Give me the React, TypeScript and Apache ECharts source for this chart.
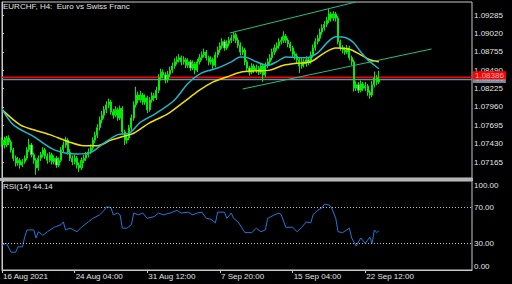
import React, { useEffect, useRef } from "react";
import * as echarts from "echarts";

const chartTitle = "EURCHF, H4:  Euro vs Swiss Franc";
const rsiTitle = "RSI(14) 44.14";
const priceTicks = [1.07165, 1.0743, 1.07695, 1.0796, 1.08225, 1.0849, 1.08755, 1.0902, 1.09285];
const rsiTicks = [0, 30, 70, 100];
const rsiLevels = [30, 70];
const dateTickIdx = [0, 32, 64, 96, 128, 160];
const dateTickLabels = ["16 Aug 2021", "24 Aug 04:00", "31 Aug 12:00", "7 Sep 20:00", "15 Sep 04:00", "22 Sep 12:00"];
const askPrice = 1.08386;
const bidPrice = 1.08355;

const opens = [
  1.0742, 1.0748, 1.0741, 1.0751, 1.0745, 1.0734, 1.0722, 1.0715, 1.0719, 1.0712,
  1.0717, 1.0722, 1.0734, 1.0741, 1.0727, 1.0719, 1.0708, 1.0722, 1.0727, 1.0734,
  1.0725, 1.0719, 1.0727, 1.0717, 1.0722, 1.0712, 1.0719, 1.0734, 1.0741, 1.0748,
  1.0731, 1.0722, 1.0717, 1.0722, 1.0712, 1.0708, 1.0719, 1.0722, 1.0727, 1.0731,
  1.0737, 1.0748, 1.0755, 1.0766, 1.0777, 1.0784, 1.0792, 1.0799, 1.0803, 1.0789,
  1.0784, 1.0792, 1.078, 1.0794, 1.076, 1.0748, 1.0751, 1.0766, 1.078, 1.0799,
  1.0813, 1.0806, 1.0813, 1.0803, 1.0809, 1.0792, 1.0806, 1.0812, 1.0809, 1.082,
  1.0838, 1.0846, 1.0842, 1.0835, 1.0843, 1.0849, 1.0855, 1.0861, 1.0864, 1.0867,
  1.0861, 1.0864, 1.0856, 1.0861, 1.0852, 1.0858, 1.0849, 1.0861, 1.0867, 1.0871,
  1.0875, 1.0867, 1.0861, 1.0864, 1.0856, 1.0871, 1.0878, 1.0884, 1.089, 1.0881,
  1.0887, 1.0892, 1.0895, 1.09, 1.0892, 1.0885, 1.0875, 1.0878, 1.0861, 1.0852,
  1.0846, 1.0855, 1.0849, 1.0852, 1.0846, 1.0855, 1.0842, 1.0856, 1.0861, 1.0867,
  1.0875, 1.0881, 1.0884, 1.089, 1.0892, 1.0898, 1.0892, 1.0887, 1.0881, 1.0872,
  1.0869, 1.0864, 1.0855, 1.0861, 1.0858, 1.0864, 1.0861, 1.0871, 1.0881, 1.089,
  1.0895, 1.0904, 1.091, 1.0915, 1.0921, 1.093, 1.0924, 1.093, 1.0924, 1.089,
  1.0881, 1.0878, 1.0875, 1.0881, 1.0867, 1.0861, 1.0823, 1.0828, 1.082, 1.0829,
  1.0823, 1.0826, 1.0817, 1.0813, 1.0828, 1.0838, 1.0832,
];
const closes = [
  1.0748, 1.0741, 1.0751, 1.0745, 1.0734, 1.0722, 1.0715, 1.0719, 1.0712, 1.0717,
  1.0722, 1.0734, 1.0741, 1.0727, 1.0719, 1.0708, 1.0722, 1.0727, 1.0734, 1.0725,
  1.0719, 1.0727, 1.0717, 1.0722, 1.0712, 1.0719, 1.0734, 1.0741, 1.0748, 1.0731,
  1.0722, 1.0717, 1.0722, 1.0712, 1.0708, 1.0719, 1.0722, 1.0727, 1.0731, 1.0737,
  1.0748, 1.0755, 1.0766, 1.0777, 1.0784, 1.0792, 1.0799, 1.0803, 1.0789, 1.0784,
  1.0792, 1.078, 1.0794, 1.076, 1.0748, 1.0751, 1.0766, 1.078, 1.0799, 1.0813,
  1.0806, 1.0813, 1.0803, 1.0809, 1.0792, 1.0806, 1.0812, 1.0809, 1.082, 1.0838,
  1.0846, 1.0842, 1.0835, 1.0843, 1.0849, 1.0855, 1.0861, 1.0864, 1.0867, 1.0861,
  1.0864, 1.0856, 1.0861, 1.0852, 1.0858, 1.0849, 1.0861, 1.0867, 1.0871, 1.0875,
  1.0867, 1.0861, 1.0864, 1.0856, 1.0871, 1.0878, 1.0884, 1.089, 1.0881, 1.0887,
  1.0892, 1.0895, 1.09, 1.0892, 1.0885, 1.0875, 1.0878, 1.0861, 1.0852, 1.0846,
  1.0855, 1.0849, 1.0852, 1.0846, 1.0855, 1.0842, 1.0856, 1.0861, 1.0867, 1.0875,
  1.0881, 1.0884, 1.089, 1.0892, 1.0898, 1.0892, 1.0887, 1.0881, 1.0872, 1.0869,
  1.0864, 1.0855, 1.0861, 1.0858, 1.0864, 1.0861, 1.0871, 1.0881, 1.089, 1.0895,
  1.0904, 1.091, 1.0915, 1.0921, 1.093, 1.0924, 1.093, 1.0924, 1.089, 1.0881,
  1.0878, 1.0875, 1.0881, 1.0867, 1.0861, 1.0823, 1.0828, 1.082, 1.0829, 1.0823,
  1.0826, 1.0817, 1.0813, 1.0828, 1.0838, 1.0832, 1.0836,
];
const highs = [
  1.0752, 1.0753, 1.0754, 1.0755, 1.0748, 1.0737, 1.0726, 1.0724, 1.0722, 1.0721,
  1.0726, 1.0738, 1.075, 1.0744, 1.073, 1.0722, 1.0726, 1.0731, 1.0738, 1.0737,
  1.0729, 1.0731, 1.073, 1.0726, 1.0725, 1.0723, 1.0738, 1.0746, 1.0753, 1.0751,
  1.0735, 1.0726, 1.0727, 1.0725, 1.0716, 1.0723, 1.0727, 1.0731, 1.0736, 1.0742,
  1.0752, 1.076, 1.0771, 1.0782, 1.079, 1.0797, 1.0804, 1.0808, 1.0806, 1.0793,
  1.0797, 1.0795, 1.0798, 1.0797, 1.0763, 1.0756, 1.077, 1.0785, 1.0804, 1.0825,
  1.0818, 1.0819, 1.0816, 1.0814, 1.0812, 1.081, 1.0817, 1.0816, 1.0825, 1.0843,
  1.0851, 1.085, 1.0846, 1.0848, 1.0854, 1.086, 1.0866, 1.0869, 1.0872, 1.087,
  1.0869, 1.0867, 1.0866, 1.0864, 1.0863, 1.0861, 1.0865, 1.0872, 1.0876, 1.088,
  1.0878, 1.087, 1.0869, 1.0867, 1.0875, 1.0883, 1.0889, 1.0895, 1.0893, 1.0892,
  1.0897, 1.09, 1.0904, 1.0903, 1.0896, 1.0889, 1.0883, 1.0881, 1.0864, 1.0855,
  1.0859, 1.0858, 1.0857, 1.0855, 1.0859, 1.0858, 1.086, 1.0866, 1.0872, 1.088,
  1.0886, 1.0889, 1.0895, 1.0897, 1.0905, 1.0901, 1.0895, 1.089, 1.0884, 1.0876,
  1.0873, 1.0867, 1.0866, 1.0865, 1.0869, 1.0868, 1.0876, 1.0886, 1.0895, 1.09,
  1.0909, 1.0915, 1.092, 1.0926, 1.0937, 1.0933, 1.0934, 1.0933, 1.0927, 1.0893,
  1.0885, 1.0882, 1.0885, 1.0884, 1.087, 1.0864, 1.0833, 1.0832, 1.0834, 1.0832,
  1.0832, 1.0829, 1.082, 1.0833, 1.0847, 1.0842, 1.0848,
];
const lows = [
  1.0738, 1.0736, 1.0738, 1.0741, 1.073, 1.0718, 1.071, 1.0711, 1.0707, 1.0709,
  1.0714, 1.0719, 1.0731, 1.0723, 1.0714, 1.0698, 1.0704, 1.0718, 1.0723, 1.0721,
  1.0714, 1.0716, 1.0713, 1.0713, 1.0708, 1.0709, 1.0716, 1.073, 1.0737, 1.0727,
  1.0718, 1.0712, 1.0713, 1.0707, 1.0702, 1.0705, 1.0715, 1.0718, 1.0723, 1.0728,
  1.0734, 1.0744, 1.0751, 1.0762, 1.0772, 1.0779, 1.0787, 1.0794, 1.0785, 1.0779,
  1.0781, 1.0776, 1.0777, 1.0756, 1.0741, 1.0743, 1.0748, 1.0762, 1.0776, 1.0795,
  1.0801, 1.0802, 1.0799, 1.0799, 1.0787, 1.0789, 1.0802, 1.0804, 1.0806, 1.0816,
  1.0834, 1.0837, 1.083, 1.0831, 1.0839, 1.0845, 1.0851, 1.0857, 1.086, 1.0856,
  1.0857, 1.0852, 1.0852, 1.0848, 1.0849, 1.0843, 1.0846, 1.0857, 1.0863, 1.0867,
  1.0863, 1.0856, 1.0857, 1.0851, 1.0853, 1.0867, 1.0874, 1.088, 1.0877, 1.0878,
  1.0883, 1.0888, 1.0891, 1.0888, 1.0881, 1.087, 1.0871, 1.0856, 1.0847, 1.0841,
  1.0843, 1.0845, 1.0845, 1.0842, 1.0843, 1.0832, 1.0839, 1.0852, 1.0858, 1.0863,
  1.0871, 1.0877, 1.088, 1.0886, 1.0888, 1.0888, 1.0882, 1.0876, 1.0867, 1.0864,
  1.0859, 1.0845, 1.0851, 1.0853, 1.0854, 1.0856, 1.0858, 1.0867, 1.0877, 1.0886,
  1.0891, 1.09, 1.0906, 1.0911, 1.0917, 1.0919, 1.092, 1.0919, 1.0886, 1.0877,
  1.0873, 1.0871, 1.0872, 1.0863, 1.0856, 1.0818, 1.0819, 1.0816, 1.0817, 1.0819,
  1.0819, 1.0812, 1.0808, 1.081, 1.0824, 1.0827, 1.0829,
];

// moving averages: [bar index, price]
const maFast = [
  [0, 1.0793], [5, 1.077], [14, 1.0753], [23, 1.0734], [33, 1.0728], [39, 1.073],
  [45, 1.0744], [51, 1.0756], [56, 1.0758], [61, 1.0774], [68, 1.0787], [76, 1.0806],
  [82, 1.083], [88, 1.0845], [95, 1.0852], [101, 1.0861], [105, 1.0868], [108, 1.0867],
  [112, 1.0861], [117, 1.0856], [121, 1.0861], [125, 1.0868], [130, 1.0867], [134, 1.0867],
  [139, 1.0874], [143, 1.0888], [147, 1.0897], [152, 1.0895], [155, 1.0888], [158, 1.0875],
  [161, 1.0864], [164, 1.0856], [166, 1.0851],
];
const maSlow = [
  [0, 1.0792], [8, 1.077], [14, 1.0763], [21, 1.0756], [29, 1.0746], [36, 1.074],
  [42, 1.074], [48, 1.0748], [54, 1.0754], [58, 1.0758], [65, 1.0773], [73, 1.0786],
  [80, 1.0803], [87, 1.082], [93, 1.0832], [99, 1.0839], [105, 1.0846], [112, 1.0848],
  [118, 1.0849], [124, 1.0856], [130, 1.0859], [136, 1.0861], [142, 1.0874], [147, 1.0881],
  [153, 1.0879], [158, 1.0871], [162, 1.0864], [166, 1.0861],
];
const rsiPoints = [
  [0, 28], [2, 30], [4, 20], [6, 20], [7, 26], [9, 26], [10, 37], [11, 45], [14, 45],
  [15, 36], [16, 43], [18, 39], [20, 43], [23, 48], [26, 51], [27, 54], [28, 45], [30, 47],
  [33, 43], [35, 48], [38, 54], [40, 58], [43, 62], [45, 67], [46, 71], [48, 70], [49, 62],
  [51, 64], [52, 62], [53, 47], [55, 47], [57, 51], [58, 64], [60, 62], [62, 64], [64, 58],
  [67, 60], [69, 64], [71, 62], [74, 64], [77, 67], [79, 64], [82, 65], [84, 62], [86, 64],
  [88, 65], [90, 58], [92, 57], [94, 53], [95, 65], [98, 65], [99, 58], [101, 64], [102, 58],
  [104, 54], [107, 42], [110, 42], [112, 47], [114, 43], [116, 45], [117, 58], [120, 62],
  [122, 64], [123, 62], [125, 48], [128, 48], [130, 43], [132, 48], [134, 54], [136, 53],
  [137, 62], [139, 67], [141, 70], [142, 74], [144, 73], [145, 71], [147, 58], [148, 43],
  [150, 42], [153, 47], [154, 36], [156, 27], [158, 36], [160, 30], [162, 37], [163, 30],
  [164, 45], [165, 42], [166, 44.14],
];
const trendUpper = [[100.3, 1.09025], [155.8, 1.09472]];
const trendLower = [[106, 1.08218], [189.2, 1.08795]];
const X_MIN = 0;
const X_MAX = 207;

const FONT = "Liberation Sans";
const TXT = "#e4e4e4";
const FRAME = "#c8c8c8";

export default function App() {
  const ref = useRef<HTMLDivElement>(null);
  useEffect(() => {
    if (!ref.current) return;
    const chart = echarts.init(ref.current, undefined, { renderer: "svg" });
    const candles = closes.map((c, i) => [i, opens[i], c, lows[i], highs[i]]);
    const xCommon = { type: "value", min: X_MIN, max: X_MAX, splitLine: { show: false } };
    const priceLine = (
      price: number,
      color: string,
      width: number,
      bg: string,
      fg: string,
      z: number,
      dy: number
    ) => ({
      type: "line",
      xAxisIndex: 0,
      yAxisIndex: 0,
      data: [[X_MIN, price], [X_MAX, price]],
      symbol: "none",
      clip: false,
      lineStyle: { color, width },
      z,
      endLabel: {
        show: true,
        distance: 1,
        offset: [0, dy],
        formatter: () => price.toFixed(5),
        backgroundColor: bg,
        color: fg,
        fontSize: 8,
        lineHeight: 8,
        fontFamily: FONT,
        padding: [0, 2, 0, 2],
      },
    });
    chart.setOption({
      animation: false,
      backgroundColor: "#000000",
      textStyle: { fontFamily: FONT },
      title: [
        { text: chartTitle, left: 3, top: 2, padding: 0, textStyle: { fontSize: 8, color: TXT, fontWeight: "normal", fontFamily: FONT } },
        { text: rsiTitle, left: 3, top: 182, padding: 0, textStyle: { fontSize: 8, color: TXT, fontWeight: "normal", fontFamily: FONT } },
      ],
      grid: [
        { left: 2, right: 40, top: 2, height: 176, show: true, borderColor: FRAME, borderWidth: 1 },
        { left: 2, right: 40, top: 181, height: 89, show: true, borderColor: FRAME, borderWidth: 1 },
      ],
      xAxis: [
        { ...xCommon, gridIndex: 0, axisLine: { show: false }, axisTick: { show: false }, axisLabel: { show: false } },
        {
          ...xCommon,
          gridIndex: 1,
          axisLine: { show: true, onZero: false, lineStyle: { color: FRAME } },
          axisTick: { show: true, customValues: dateTickIdx, length: 3, lineStyle: { color: FRAME } },
          axisLabel: {
            customValues: dateTickIdx,
            formatter: (v: number) => dateTickLabels[dateTickIdx.indexOf(v)] ?? "",
            align: "left",
            margin: 2,
            color: TXT,
            fontSize: 8,
            fontFamily: FONT,
            padding: [0, 0, 0, 1],
          },
        },
      ],
      yAxis: [
        {
          type: "value",
          gridIndex: 0,
          position: "right",
          min: 1.069343,
          max: 1.094725,
          splitLine: { show: false },
          axisLine: { show: true, lineStyle: { color: FRAME } },
          axisTick: { show: true, customValues: priceTicks, length: 2, lineStyle: { color: FRAME } },
          axisLabel: {
            customValues: priceTicks,
            formatter: (v: number) => v.toFixed(5),
            color: TXT,
            fontSize: 8,
            fontFamily: FONT,
            margin: 2,
          },
        },
        {
          type: "value",
          gridIndex: 1,
          position: "right",
          min: 0,
          max: 100,
          splitLine: { show: false },
          axisLine: { show: true, lineStyle: { color: FRAME } },
          axisTick: { show: true, customValues: rsiTicks, length: 2, lineStyle: { color: FRAME } },
          axisLabel: {
            customValues: rsiTicks,
            formatter: (v: number) => (v === 100 ? "{t|100.00}" : v === 0 ? "{b|0.00}" : v.toFixed(2)),
            color: TXT,
            fontSize: 8,
            fontFamily: FONT,
            margin: 2,
            rich: {
              t: { padding: [8, 0, 0, 0], color: TXT, fontSize: 8, fontFamily: FONT },
              b: { padding: [0, 0, 8, 0], color: TXT, fontSize: 8, fontFamily: FONT },
            },
          },
        },
      ],
      graphic: [
        { type: "rect", shape: { x: 0, y: 178, width: 473, height: 3 }, style: { fill: "#b4b4b4" }, z: 100 },
      ],
      series: [
        {
          type: "candlestick",
          xAxisIndex: 0,
          yAxisIndex: 0,
          data: candles,
          encode: { x: 0, y: [1, 2, 3, 4] },
          barWidth: 1.6,
          itemStyle: {
            color: "#00b000",
            color0: "#d8ffd8",
            borderColor: "#00ee00",
            borderColor0: "#00ee00",
            borderWidth: 1,
          },
          z: 3,
        },
        priceLine(bidPrice, "#778899", 1.5, "#778899", "#a9b4c0", 2, -0.5),
        priceLine(askPrice, "#ff0000", 1.5, "#ff0000", "#ffb8b8", 2, -2),
        {
          type: "line",
          xAxisIndex: 0,
          yAxisIndex: 0,
          data: maSlow,
          symbol: "none",
          smooth: 0.3,
          lineStyle: { color: "#f0e000", width: 1.5 },
          z: 4,
        },
        {
          type: "line",
          xAxisIndex: 0,
          yAxisIndex: 0,
          data: maFast,
          symbol: "none",
          smooth: 0.3,
          lineStyle: { color: "#1ab8cc", width: 1.5 },
          z: 5,
        },
        {
          type: "line",
          xAxisIndex: 0,
          yAxisIndex: 0,
          data: trendUpper,
          symbol: "none",
          lineStyle: { color: "#20c08a", width: 1 },
          z: 6,
        },
        {
          type: "line",
          xAxisIndex: 0,
          yAxisIndex: 0,
          data: trendLower,
          symbol: "none",
          lineStyle: { color: "#20c08a", width: 1 },
          z: 6,
        },
        {
          type: "line",
          xAxisIndex: 1,
          yAxisIndex: 1,
          data: rsiPoints,
          symbol: "none",
          lineStyle: { color: "#1f78dc", width: 1 },
          markLine: {
            symbol: "none",
            silent: true,
            label: { show: false },
            lineStyle: { color: "#c0c0c0", type: [1, 2], width: 1 },
            data: rsiLevels.map((v) => ({ yAxis: v })),
          },
        },
      ],
    });
    return () => chart.dispose();
  }, []);
  return (
    <div
      ref={ref}
      style={{ position: "fixed", left: 0, top: 0, width: 512, height: 284, background: "#000" }}
    />
  );
}
